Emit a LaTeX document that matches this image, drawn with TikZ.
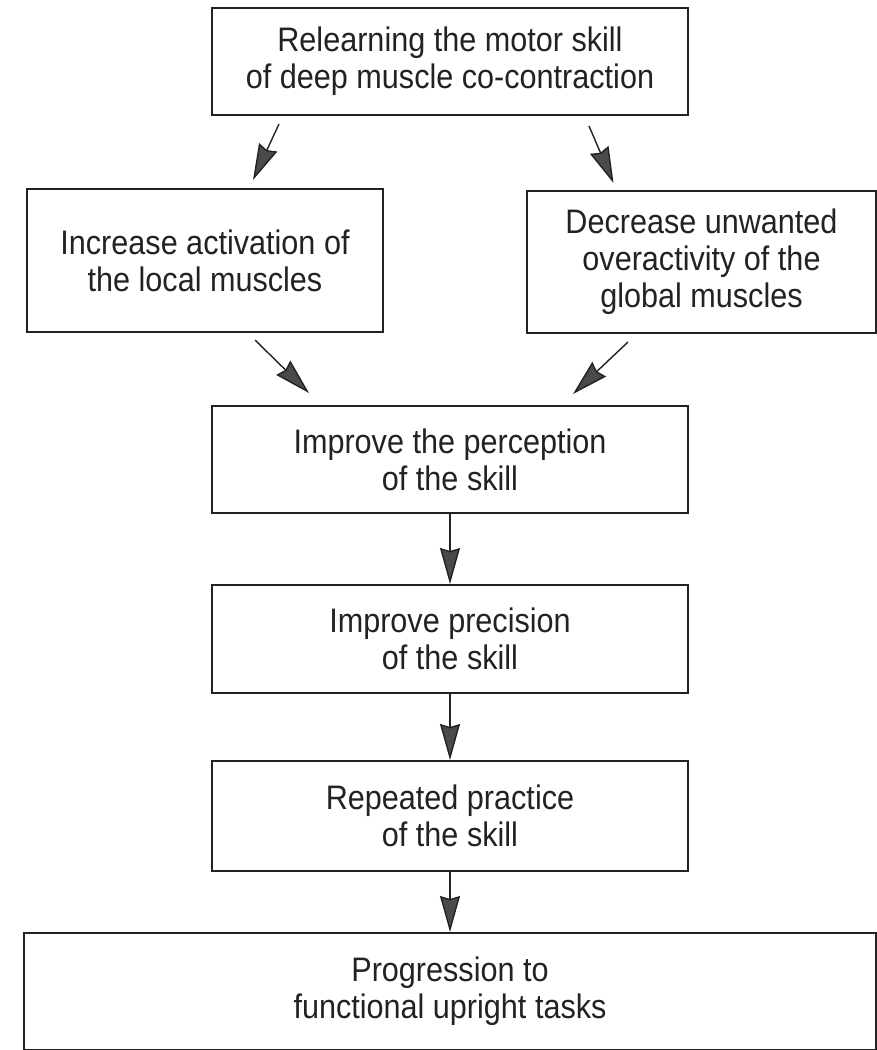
\documentclass[tikz,border=0pt]{standalone}
\usepackage{fontspec}
\setmainfont{Liberation Sans}[FakeStretch=0.9]
\usetikzlibrary{arrows.meta,positioning}
\definecolor{TextoGris}{HTML}{222222}
\definecolor{PuntaGris}{HTML}{4A4A4A}
\tikzset{
  caja/.style   = {draw=TextoGris, line width=1pt, align=center, text=TextoGris,
                   font=\fontsize{17}{18.5}\selectfont, inner sep=2pt,
                   minimum width=238pt, minimum height=53.5pt},
  flecha/.style = {-{Stealth[length=18pt,width=10pt,inset=1.5pt,fill=PuntaGris]},
                   line width=0.7pt, draw=TextoGris},
}
\begin{document}
\begin{tikzpicture}
  \useasboundingbox (0,0) rectangle (438.5pt,-525pt);
  % columna central
  \node[caja] (relearn) at (225pt,-30.75pt) {Relearning the motor skill\\of deep muscle co-contraction};
  \node[caja, below=144.5pt of relearn] (perception) {Improve the perception\\of the skill};
  \node[caja, below=35pt of perception, minimum height=54pt] (precision) {Improve precision\\of the skill};
  \node[caja, below=33pt of precision, minimum height=55pt] (repeated) {Repeated practice\\of the skill};
  \node[caja, below=30pt of repeated, minimum width=426pt, minimum height=58.5pt] (progression) {Progression to\\functional upright tasks};

  % ramas
  \node[caja, anchor=north west, minimum width=178pt, minimum height=71.5pt] (increase) at (13pt,-94pt) {Increase activation of\\the local muscles};
  \node[caja, anchor=north west, minimum width=174.5pt, minimum height=71pt] (decrease) at (263pt,-95pt) {Decrease unwanted\\overactivity of the\\global muscles};

  \draw[flecha] ([xshift=34pt,yshift=-4pt]relearn.south west) -- ([xshift=24pt,yshift=4pt]increase.north);
  \draw[flecha] ([xshift=-50pt,yshift=-5pt]relearn.south east) -- ([xshift=-44pt,yshift=3.5pt]decrease.north);
  \draw[flecha] ([xshift=-64.5pt,yshift=-3.5pt]increase.south east) -- ([xshift=49pt,yshift=6pt]perception.north west);
  \draw[flecha] ([xshift=51pt,yshift=-4pt]decrease.south west) -- ([xshift=-58pt,yshift=5.5pt]perception.north east);

  \draw[flecha] (perception) -- (precision);
  \draw[flecha] (precision) -- (repeated);
  \draw[flecha] (repeated) -- (progression);
\end{tikzpicture}
\end{document}
